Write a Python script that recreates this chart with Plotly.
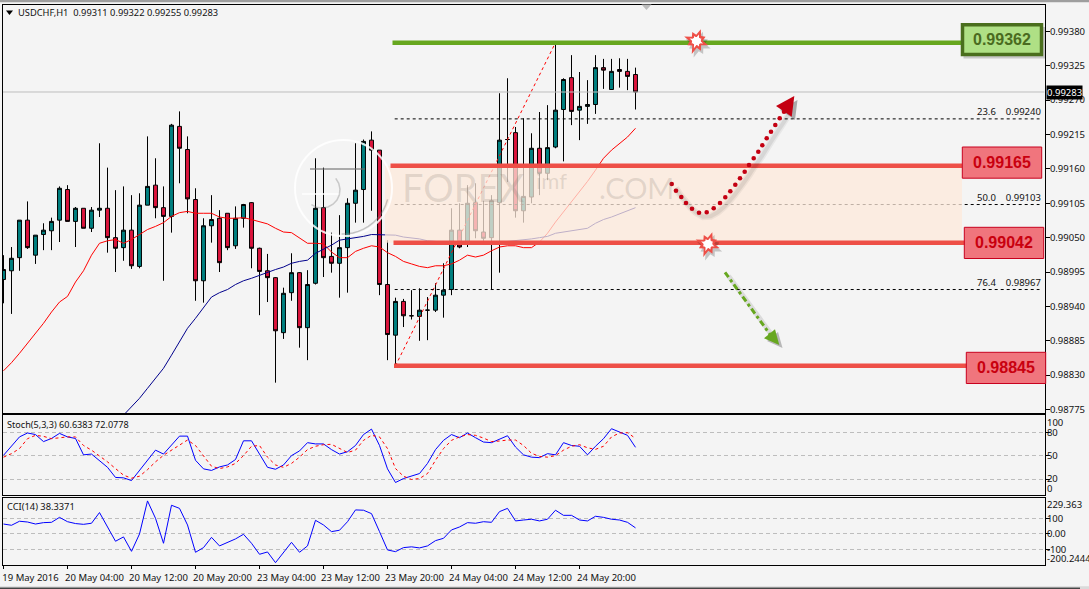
import math
import numpy as np
import plotly.graph_objects as go

W, H = 1089, 589

# Hourly USDCHF candles, in points (1 point = 0.00001)
opens = [98983,98997,99018,99078,99022,99055,99061,99078,99127,99076,
         99097,99065,99094,99097,99050,99034,99062,99004,99102,99134,
         99098,99084,99228,99191,99111,98981,99069,99081,99089,99037,
         99081,99106,99033,98997,98986,98898,98962,98994,98906,98977,
         99098,99020,99009,99034,99105,99127,99206,99190,98975,98894,
         98948,98925,98924,98934,98934,98958,98967,99062,99041,99106,
         99059,99050,99106,99207,99218,99093,99115,99193,99153,99195,
         99255,99306,99254,99260,99263,99322,99287,99319,99316,99311]
highs = [99022,99035,99078,99108,99054,99073,99082,99132,99134,99099,
         99097,99099,99201,99162,99126,99132,99118,99121,99212,99177,
         99132,99232,99252,99212,99129,99081,99118,99094,99089,99100,
         99104,99107,99034,99024,98987,98970,99025,98995,98998,99177,
         99162,99058,99086,99113,99201,99207,99220,99190,99046,98954,
         98952,98966,98969,98955,98977,99009,99097,99105,99134,99137,
         99109,99118,99281,99305,99227,99241,99217,99251,99262,99362,
         99305,99342,99315,99302,99342,99336,99336,99337,99336,99322]
lows = [98945,98928,98997,99032,99008,99030,99030,99043,99076,99035,
        99065,99059,99083,99026,98995,99013,99000,99001,99102,99081,
        98981,99058,99137,99089,98949,98946,99042,98995,99030,99032,
        99066,99001,98926,98947,98818,98888,98949,98874,98854,98975,
        98987,98994,98954,98962,99074,99074,99093,98958,98854,98845,
        98907,98919,98885,98886,98931,98922,98958,99033,99035,99049,
        99045,98967,98994,99139,99082,99074,99105,99118,99142,99193,
        99172,99230,99206,99232,99248,99288,99287,99290,99286,99255]
closes = [98999,99017,99078,99034,99054,99062,99076,99129,99076,99097,
          99065,99094,99097,99050,99033,99062,99005,99102,99132,99098,
          99084,99230,99193,99112,98981,99069,99079,99010,99034,99081,
          99103,99033,98996,98986,98901,98961,98994,98906,98975,99097,
          99018,99009,99034,99105,99126,99204,99190,98975,98895,98948,
          98925,98925,98934,98934,98958,98966,99062,99035,99105,99061,
          99049,99109,99206,99207,99093,99116,99193,99153,99194,99254,
          99303,99252,99260,99263,99322,99318,99316,99316,99308,99283]

# Moving averages on the price panel
ma_fast = [98837,98850,98865,98881,98898,98913,98931,98947,98956,98979,
           98997,99022,99041,99045,99047,99041,99047,99055,99063,99068,
           99074,99084,99090,99092,99089,99089,99089,99083,99081,99081,
           99082,99079,99075,99072,99065,99059,99058,99049,99041,99041,
           99040,99027,99018,99018,99028,99033,99037,99035,99026,99020,
           99012,99008,99004,99002,99005,99005,99008,99014,99022,99019,
           99022,99029,99035,99037,99037,99034,99034,99043,99057,99075,
           99091,99107,99124,99140,99158,99177,99190,99201,99211,99225]
ma_slow_start = 15
ma_slow = [98766,98779,98793,98809,98825,98841,98862,98883,98905,98921,
           98939,98955,98962,98967,98975,98981,98985,98990,98995,98999,
           99003,99009,99012,99014,99025,99031,99038,99046,99048,99049,
           99052,99055,99055,99055,99054,99051,99050,99048,99045,99044,
           99043,99042,99041,99042,99042,99043,99043,99043,99044,99045,
           99047,99048,99050,99052,99057,99059,99062,99064,99065,99073,
           99079,99083,99088,99093,99098]

# Stochastic oscillator (5,3,3)
stoch_main = [50.4,62,74,79,77,68,72,78.5,74,72,51,52,44,35,22,21.5,18,31,43,57,
              52,64,75,75,44,33,31,35.5,38,45,69,69,52,35,32.5,38,50,56,66.6,65,
              65,57.7,52,55,63,77,84,63,33,15.5,20.6,23.6,27,40,57.7,69.6,77,73,79,73,
              67.4,66.6,71,75.5,61,51,48,47.4,52.5,51,66.6,63,62,51,62,71.7,84.5,80,76,60.6383]
stoch_signal = [48,52.5,59,71.7,76,74.7,71.7,73,74,74,63,57,49.6,42,33.4,25,21,23.6,32,42,
                50.4,57,64,70,63,49,36.4,33.4,35.5,40,50,62,63,48,38,35,40,48,57.7,62,
                64,64.5,59,54,57,69.6,76,74,59,33.4,23.6,19.4,20.6,27,44,59,69.6,74,77,76,
                72.5,68,68.7,70,70,63,53,49,48,50,57,62,64,60,58,62,74,79,79.4,72.0778]

# Commodity channel index (14)
cci = [63,55,81,76,63,72,74,106,78,66,61,68,137,46,-48,-20,-113,-1,212,100,
       -61,184,164,57,-119,-89,-23,-78,-57,-33,-3,-61,-132,-117,-186,-121,-55,-119,-78,87,
       57,14,23,78,154,152,130,14,-104,-115,-89,-84,-91,-78,-44,-29,25,44,72,68,
       78,74,143,164,83,89,94,83,94,152,119,119,89,83,113,106,94,89,74,38.3371]

# Axis labels
time_tick_bars = [0, 8, 16, 24, 32, 40, 48, 56, 64, 72]
time_tick_text = ["19 May 2016", "20 May 04:00", "20 May 12:00", "20 May 20:00", "23 May 04:00",
                  "23 May 12:00", "23 May 20:00", "24 May 04:00", "24 May 12:00", "24 May 20:00"]
price_ticks = [0.99380, 0.99325, 0.99270, 0.99215, 0.99160, 0.99105,
               0.99050, 0.98995, 0.98940, 0.98885, 0.98830, 0.98775]

# Levels marked on the chart
resistance_level = 0.99362
zone_top_level = 0.99165
zone_bottom_level = 0.99042
support_level = 0.98845
last_price = 0.99283
fib_levels = [(23.6, 0.99240), (50.0, 0.99103), (76.4, 0.98967)]
fib_start_bar, fib_end_bar = 49, 69

TEAL, CRIMSON = "#008080", "#DC143C"
FONT = "Noto Sans, sans-serif"
TXT = "#111111"
SIZE = 9.5
LEVEL_RED = "#EE4F47"
LEVEL_GREEN = "#67A71F"


def px_x(x):
    return x / W


def px_y(y):
    return 1 - y / H


def poly(points):
    return "M " + " L ".join(f"{px_x(x):.5f} {px_y(y):.5f}" for x, y in points) + " Z"


def paper_rect(x0, y0, x1, y1, **kw):
    return dict(type="rect", xref="paper", yref="paper", x0=px_x(x0), x1=px_x(x1),
                y0=px_y(y1), y1=px_y(y0), layer="above", **kw)


def paper_line(x0, y0, x1, y1, color, width, dash="solid"):
    return dict(type="line", xref="paper", yref="paper", x0=px_x(x0), x1=px_x(x1),
                y0=px_y(y0), y1=px_y(y1), layer="above", line=dict(color=color, width=width, dash=dash))


def level_line(x0, x1, level, color):
    return dict(type="line", xref="paper", yref="y", x0=px_x(x0), x1=px_x(x1), y0=level, y1=level,
                layer="above", line=dict(color=color, width=4.5))


def burst(cx, cy, scale):
    """Spiky marker used for the two level hits."""
    radii = [1.0, .5, .85, .55, 1.1, .5, .8, .55, 1.05, .5, .8, .5, 1.0, .55, .8, .5]
    pts = []
    for k, r in enumerate(radii):
        a = 2 * math.pi * k / len(radii) + 0.35
        pts.append((cx + scale * r * math.cos(a), cy + scale * r * math.sin(a)))
    return pts


bars = np.arange(len(opens))
fig = go.Figure()

fig.add_trace(go.Candlestick(
    x=bars, open=np.array(opens) / 1e5, high=np.array(highs) / 1e5,
    low=np.array(lows) / 1e5, close=np.array(closes) / 1e5, xaxis="x", yaxis="y", whiskerwidth=0,
    increasing=dict(fillcolor=TEAL, line=dict(color="#000000", width=1)),
    decreasing=dict(fillcolor=CRIMSON, line=dict(color="#000000", width=1)),
    showlegend=False))

fig.add_trace(go.Scatter(x=bars, y=np.array(ma_fast) / 1e5, mode="lines", xaxis="x", yaxis="y",
                         line=dict(color="#FF0000", width=1), showlegend=False))
fig.add_trace(go.Scatter(x=bars[ma_slow_start:], y=np.array(ma_slow) / 1e5, mode="lines", xaxis="x", yaxis="y",
                         line=dict(color="#00008B", width=1), showlegend=False))

# Fibonacci retracement: base line and dashed levels
fig.add_trace(go.Scatter(x=[fib_start_bar, fib_end_bar], y=[support_level, resistance_level], mode="lines",
                         xaxis="x", yaxis="y", line=dict(color="#FF0000", width=1, dash="3px,3px"),
                         showlegend=False))
for _, level in fib_levels:
    fig.add_trace(go.Scatter(x=[48.9, 129.5], y=[level, level], mode="lines", xaxis="x", yaxis="y",
                             line=dict(color="#000000", width=1, dash="3px,3px"), showlegend=False))

# Last-price line
fig.add_trace(go.Scatter(x=[-0.1, 130.1], y=[last_price, last_price], mode="lines", xaxis="x", yaxis="y",
                         line=dict(color="#BDBDBD", width=1), showlegend=False))

fig.add_trace(go.Scatter(x=bars, y=stoch_main, mode="lines", xaxis="x2", yaxis="y2",
                         line=dict(color="#0000FF", width=1), showlegend=False))
fig.add_trace(go.Scatter(x=bars, y=stoch_signal, mode="lines", xaxis="x2", yaxis="y2",
                         line=dict(color="#FF0000", width=1, dash="3px,3px"), showlegend=False))
fig.add_trace(go.Scatter(x=bars, y=cci, mode="lines", xaxis="x3", yaxis="y3",
                         line=dict(color="#0000FF", width=1), showlegend=False))

shapes = []

# Window chrome
shapes.append(paper_rect(0, 0, W, 2.2, fillcolor="#9E9E9E", line=dict(width=0)))
shapes.append(paper_rect(0, 586.2, W, H, fillcolor="#DADADA", line=dict(width=0)))
shapes.append(paper_line(0, 588.2, 1080, 588.2, "#000000", 1))
shapes.append(dict(type="path", xref="paper", yref="paper", layer="above", line=dict(width=0),
                   fillcolor="#BDBDBD", path=poly([(641.5, 4.5), (651.5, 4.5), (646.5, 10)])))
shapes.append(dict(type="path", xref="paper", yref="paper", layer="above", line=dict(width=0),
                   fillcolor="#000000", path=poly([(6, 10.5), (13, 10.5), (9.5, 15)])))

# Consolidation zone
shapes.append(dict(type="rect", xref="paper", yref="y", x0=px_x(385), x1=px_x(962),
                   y0=zone_bottom_level, y1=zone_top_level, layer="above",
                   fillcolor="rgba(254,233,219,0.75)", line=dict(width=0)))

# Round logo behind the text
shapes.append(dict(type="circle", xref="paper", yref="paper", layer="above",
                   x0=px_x(295), x1=px_x(392), y0=px_y(236), y1=px_y(140),
                   line=dict(color="rgba(255,255,255,0.85)", width=2)))
shapes.append(paper_line(310, 169, 365, 169, "rgba(110,110,110,0.55)", 2))
shapes.append(paper_line(302, 194, 340, 194, "rgba(255,255,255,0.75)", 2))
shapes.append(dict(type="path", xref="paper", yref="paper", layer="above",
                   line=dict(color="rgba(120,120,120,0.4)", width=1.5),
                   path="M " + " L ".join(f"{px_x(343 + 46 * math.cos(a)):.5f} {px_y(188 + 46 * math.sin(a)):.5f}"
                                          for a in np.linspace(0.25, 1.6, 12))))
shapes.append(dict(type="path", xref="paper", yref="paper", layer="above",
                   line=dict(color="rgba(120,120,120,0.35)", width=1.5),
                   path="M " + " L ".join(f"{px_x(322 + 18 * math.cos(a)):.5f} {px_y(190 + 18 * math.sin(a)):.5f}"
                                          for a in np.linspace(-0.7, 2.2, 10))))

# Horizontal levels
shapes.append(level_line(392.5, 962, resistance_level, LEVEL_GREEN))
shapes.append(level_line(390.5, 962, zone_top_level, LEVEL_RED))
shapes.append(level_line(393.5, 965, zone_bottom_level, LEVEL_RED))
shapes.append(level_line(394, 967, support_level, LEVEL_RED))

# Level hit markers with soft shadows
for cx, cy in [(696.5, 41), (708, 244)]:
    shapes.append(dict(type="path", xref="paper", yref="paper", layer="above", line=dict(width=0),
                       fillcolor="rgba(0,0,0,0.2)", path=poly(burst(cx + 2, cy + 3, 13))))
    shapes.append(dict(type="path", xref="paper", yref="paper", layer="above", line=dict(width=0),
                       fillcolor=LEVEL_RED, path=poly(burst(cx, cy, 12.5))))
    shapes.append(dict(type="path", xref="paper", yref="paper", layer="above", line=dict(width=0),
                       fillcolor="#FFFFFF", path=poly(burst(cx, cy, 7))))
    shapes.append(dict(type="circle", xref="paper", yref="paper", layer="above", line=dict(width=0),
                       fillcolor="#FFFFFF", x0=px_x(cx - 4.5), x1=px_x(cx + 4.5), y0=px_y(cy + 4), y1=px_y(cy - 4)))

# Bullish scenario arrow: dotted curve with shadow
curve = [(671.7, 184), (676, 190.7), (681.3, 197), (686, 203), (692, 208.7), (699, 212.7), (706.7, 212.3),
         (713.7, 208.3), (720, 203), (725.3, 197.3), (730.3, 191.3), (735.3, 184.7), (740, 178.3), (744.7, 171.7),
         (749, 165), (753.7, 158.3), (758.3, 151.7), (762.3, 145.3), (766.7, 138.3), (771, 131.7), (775.3, 125),
         (779.7, 118.3), (784, 111.7)]
shadow_path = "M " + " L ".join(f"{px_x(x + 4):.5f} {px_y(y + 4):.5f}" for x, y in curve)
shapes.append(dict(type="path", xref="paper", yref="paper", layer="above",
                   line=dict(color="rgba(0,0,0,0.05)", width=7), path=shadow_path))
shapes.append(dict(type="path", xref="paper", yref="paper", layer="above",
                   line=dict(color="rgba(0,0,0,0.07)", width=4), path=shadow_path))
shapes.append(dict(type="path", xref="paper", yref="paper", layer="above", line=dict(width=0),
                   fillcolor="rgba(0,0,0,0.3)", path=poly([(797.5, 100), (780, 110), (795, 120)])))
for x, y in curve:
    shapes.append(dict(type="circle", xref="paper", yref="paper", layer="above", line=dict(width=0),
                       fillcolor="#C40012", x0=px_x(x - 2.3), x1=px_x(x + 2.3), y0=px_y(y + 2.3), y1=px_y(y - 2.3)))
shapes.append(dict(type="path", xref="paper", yref="paper", layer="above", line=dict(width=0),
                   fillcolor="#C40012", path=poly([(794.3, 96), (776, 106), (791.7, 116.7)])))

# Bearish scenario arrow
shapes.append(paper_line(728.5, 276, 775.5, 340, "rgba(0,0,0,0.1)", 5))
shapes.append(dict(type="path", xref="paper", yref="paper", layer="above", line=dict(width=0),
                   fillcolor="rgba(0,0,0,0.25)", path=poly([(782.5, 348), (767, 341), (778, 332)])))
shapes.append(paper_line(725, 272.3, 771.7, 336.7, LEVEL_GREEN, 3, "6px,3px,3px,3px"))
shapes.append(dict(type="path", xref="paper", yref="paper", layer="above", line=dict(width=0),
                   fillcolor=LEVEL_GREEN, path=poly([(779.3, 345), (764, 338.3), (775, 329.3)])))

# Value boxes on the right
shapes.append(paper_rect(963.5, 27, 1045, 58.5, fillcolor="rgba(0,0,0,0.18)", line=dict(width=0)))
shapes.append(paper_rect(962.5, 24.8, 1041.5, 54.5, fillcolor="#AFE085", line=dict(color="#4A6E1D", width=3.5)))
for x0, y0 in [(962.3, 147), (964.3, 227.3), (966.3, 352.3)]:
    shapes.append(paper_rect(x0, y0, x0 + 79.4, y0 + 31.2, fillcolor="#F0757D", line=dict(color="#C8001E", width=1)))

annotations = []


def text(x, y, s, size=SIZE, color=TXT, xanchor="left", family=FONT, **kw):
    annotations.append(dict(xref="paper", yref="paper", x=px_x(x), y=px_y(y), text=s, showarrow=False,
                            xanchor=xanchor, yanchor="middle", borderpad=0,
                            font=dict(family=family, size=size, color=color), **kw))


text(16.5, 12.5, "USDCHF,H1&nbsp;&nbsp;0.99311 0.99322 0.99255 0.99283", size=9.3)
text(5.5, 424.5, "Stoch(5,3,3) 60.6383 72.0778", size=9.1)
text(5.5, 506.7, "CCI(14) 38.3371", size=9.3)
text(1045.5, 422.3, "100")
text(1045.5, 488.6, "0")
text(1045.5, 504.5, "229.363")
text(1045.5, 558.5, "-200.2444")
text(1046, 92.2, "0.99283", color="#FFFFFF", bgcolor="#000000")

for pct, level in fib_levels:
    annotations.append(dict(xref="paper", yref="y", x=px_x(1043), y=level, yshift=7, showarrow=False, xanchor="right",
                            text=f"{pct:.1f}&nbsp;&nbsp;&nbsp;&nbsp;{level:.5f}",
                            font=dict(family=FONT, size=SIZE, color=TXT)))

BOLD = "Liberation Sans, Arial, sans-serif"
text(1002, 39.5, f"<b>{resistance_level:.5f}</b>", size=16, color="#4A6B20", xanchor="center", family=BOLD)
text(1002, 162.7, f"<b>{zone_top_level:.5f}</b>", size=16, color="#C9000F", xanchor="center", family=BOLD)
text(1004, 242.9, f"<b>{zone_bottom_level:.5f}</b>", size=16, color="#C9000F", xanchor="center", family=BOLD)
text(1006, 367.9, f"<b>{support_level:.5f}</b>", size=16, color="#C9000F", xanchor="center", family=BOLD)

# Site watermark
MARK = "rgba(120,108,98,0.2)"
text(401, 187, "FOREX", size=38, color=MARK, family="Lato, sans-serif")
text(535, 180, "imf", size=22, color=MARK, family="Lato, sans-serif")
text(598, 187, ".COM", size=29, color=MARK, family="Lato, sans-serif")

x_dom = [2.5 / W, 1045 / W]
x_rng = [-0.125, 130.1875]
right_axis = dict(side="right", showline=True, linecolor="#000000", linewidth=1, mirror=True, ticks="outside",
                  ticklen=4, tickcolor="#000000", tickfont=dict(family=FONT, size=SIZE, color=TXT), zeroline=False,
                  showgrid=False, fixedrange=True)
hidden_x = dict(domain=x_dom, range=x_rng, showticklabels=False, ticks="", showgrid=False, zeroline=False,
                showline=True, mirror=True, linecolor="#000000", linewidth=1)

fig.update_layout(
    width=W, height=H, margin=dict(l=0, r=0, t=0, b=0, autoexpand=False),
    paper_bgcolor="#F4F4F4", plot_bgcolor="#F4F4F4", boxgap=0.3, showlegend=False,
    xaxis=dict(hidden_x, anchor="y", rangeslider=dict(visible=False)),
    yaxis=dict(right_axis, domain=[px_y(413.3), px_y(4.5)], range=[0.98769, 0.99423], anchor="x",
               tickvals=price_ticks, tickformat=".5f", ticklabelstandoff=-2),
    xaxis2=dict(hidden_x, anchor="y2"),
    yaxis2=dict(right_axis, domain=[px_y(495.3), px_y(415.3)], range=[-0.9, 101.7], anchor="x2",
                tickvals=[80, 50, 20], showgrid=True, gridcolor="#BDBDBD", griddash="4px,3px", gridwidth=1,
                ticklabelstandoff=-5),
    xaxis3=dict(hidden_x, anchor="y3", showticklabels=True, ticks="outside", ticklen=3, tickcolor="#000000",
                tickvals=time_tick_bars, ticktext=time_tick_text, ticklabelshift=27,
                tickfont=dict(family=FONT, size=SIZE, color=TXT)),
    yaxis3=dict(right_axis, domain=[px_y(565.3), px_y(497.5)], range=[-203, 234], anchor="x3",
                tickvals=[100, 0, -100], ticktext=["100", "0.00", "-100"], showgrid=True, gridcolor="#BDBDBD",
                griddash="4px,3px", gridwidth=1, ticklabelstandoff=-5),
    shapes=shapes, annotations=annotations,
)

fig.write_html("out.html")
